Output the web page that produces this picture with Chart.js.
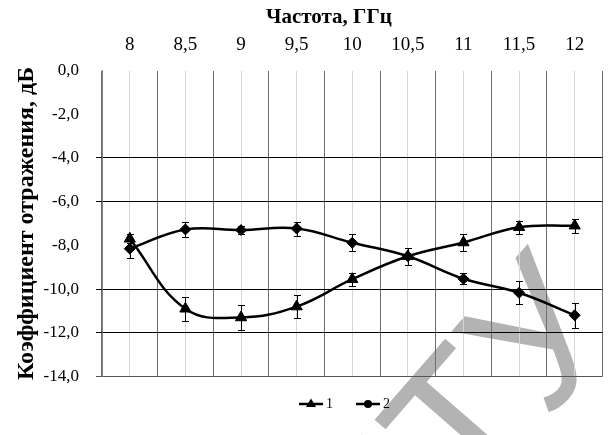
<!DOCTYPE html>
<html>
<head>
<meta charset="utf-8">
<script src="https://cdn.jsdelivr.net/npm/chart.js@4/dist/chart.umd.min.js"></script>
<style>
  html, body { margin: 0; padding: 0; background: #fff; }
  #wrap { width: 610px; height: 435px; }
</style>
</head>
<body>
<div id="wrap"><canvas id="c" width="610" height="435"></canvas></div>
<script>
// Frequency categories (GHz) along the top axis
const freqLabels = ['8', '8,5', '9', '9,5', '10', '10,5', '11', '11,5', '12'];

// Reflection coefficient, dB
const series1 = [-7.7, -10.9, -11.3, -10.8, -9.55, -8.5, -7.87, -7.17, -7.1];
const series1Err = [0.2, 0.55, 0.55, 0.53, 0.3, 0.4, 0.4, 0.3, 0.32];
const series2 = [-8.15, -7.27, -7.3, -7.23, -7.88, -8.5, -9.53, -10.17, -11.2];
const series2Err = [0.45, 0.34, 0.2, 0.32, 0.4, 0.4, 0.25, 0.53, 0.57];

const seriesNames = ['1', '2'];
const yTitle = 'Коэффициент отражения, дБ';
const xTitle = 'Частота, ГГц';

// Horizontal grid lines that are drawn (others stay hidden)
const strongGridValues = [-4, -6, -10, -12];

const SERIF = '"Liberation Serif", "Times New Roman", serif';

// Faint lettering behind the plot
const backdropText = {
  id: 'backdropText',
  beforeDraw(chart) {
    const ctx = chart.ctx;
    ctx.save();
    ctx.fillStyle = '#b3b3b3';
    ctx.font = '190px "Liberation Sans", Arial, sans-serif';
    if ('fontKerning' in ctx) ctx.fontKerning = 'none';
    ctx.translate(470.6, 508.8);
    ctx.rotate(-49 * Math.PI / 180);
    ctx.textBaseline = 'alphabetic';
    ctx.textAlign = 'left';
    const wT = ctx.measureText('Т').width;
    const wN = ctx.measureText('Н').width;
    ctx.fillText('Н', -wN, 0);
    ctx.fillText('Т', 0, 0);
    ctx.fillText('У', wT, 0);
    ctx.restore();
  }
};

// Vertical error bars with caps
const errorBars = {
  id: 'errorBars',
  afterDatasetsDraw(chart) {
    const ctx = chart.ctx;
    const yScale = chart.scales.y;
    const errs = [series1Err, series2Err];
    ctx.save();
    ctx.strokeStyle = '#000';
    ctx.lineWidth = 1;
    chart.data.datasets.forEach((ds, di) => {
      const meta = chart.getDatasetMeta(di);
      meta.data.forEach((pt, i) => {
        const v = ds.data[i];
        const e = errs[di][i];
        const x = Math.round(pt.x) + 0.5;
        const yTop = Math.round(yScale.getPixelForValue(v + e)) + 0.5;
        const yBot = Math.round(yScale.getPixelForValue(v - e)) + 0.5;
        ctx.beginPath();
        ctx.moveTo(x, yTop); ctx.lineTo(x, yBot);
        ctx.moveTo(x - 3.5, yTop); ctx.lineTo(x + 3.5, yTop);
        ctx.moveTo(x - 3.5, yBot); ctx.lineTo(x + 3.5, yBot);
        ctx.stroke();
      });
    });
    ctx.restore();
  }
};

// Top axis title and bottom legend (line + marker + name)
const annotations = {
  id: 'annotations',
  afterDraw(chart) {
    const ctx = chart.ctx;
    ctx.save();
    ctx.fillStyle = '#000';
    ctx.font = 'bold 21px ' + SERIF;
    ctx.textAlign = 'center';
    ctx.textBaseline = 'middle';
    ctx.fillText(xTitle, 329, 18);

    const items = [
      { x: 299, style: 'triangle', name: seriesNames[0] },
      { x: 356, style: 'circle', name: seriesNames[1] }
    ];
    const ly = 404;
    items.forEach(it => {
      ctx.strokeStyle = '#000';
      ctx.lineWidth = 2.5;
      ctx.beginPath();
      ctx.moveTo(it.x, ly); ctx.lineTo(it.x + 24, ly);
      ctx.stroke();
      const cx = it.x + 12;
      ctx.beginPath();
      if (it.style === 'triangle') {
        ctx.moveTo(cx, ly - 5.5);
        ctx.lineTo(cx + 5, ly + 3);
        ctx.lineTo(cx - 5, ly + 3);
        ctx.closePath();
      } else {
        ctx.arc(cx, ly, 4, 0, Math.PI * 2);
      }
      ctx.fill();
      ctx.font = '14px ' + SERIF;
      ctx.textAlign = 'left';
      ctx.fillText(it.name, it.x + 27, ly);
    });
    ctx.restore();
  }
};

new Chart(document.getElementById('c'), {
  type: 'line',
  data: {
    labels: freqLabels,
    datasets: [
      {
        label: seriesNames[0],
        data: series1,
        borderColor: '#000',
        borderWidth: 2.5,
        pointStyle: 'triangle',
        pointRadius: 6.5,
        pointBackgroundColor: '#000',
        pointBorderColor: '#000',
        pointBorderWidth: 1,
        tension: 0.4,
        fill: false,
        clip: false
      },
      {
        label: seriesNames[1],
        data: series2,
        borderColor: '#000',
        borderWidth: 2.5,
        pointStyle: 'rectRot',
        pointRadius: 5.5,
        pointBackgroundColor: '#000',
        pointBorderColor: '#000',
        pointBorderWidth: 1,
        tension: 0.4,
        fill: false,
        clip: false
      }
    ]
  },
  options: {
    responsive: false,
    animation: false,
    devicePixelRatio: 1,
    layout: { padding: { left: 0, right: 1, top: 0, bottom: 58.5 } },
    plugins: {
      legend: { display: false },
      tooltip: { enabled: false }
    },
    scales: {
      x: {
        type: 'category',
        position: 'top',
        offset: true,
        grid: { offset: true, color: '#6e6e6e', lineWidth: 1, drawTicks: false },
        border: { display: false },
        ticks: {
          color: '#000',
          padding: 14,
          maxRotation: 0,
          autoSkip: false,
          font: { family: SERIF, size: 19 }
        },
        afterFit(s) { s.height = 70.5; }
      },
      xMid: {
        type: 'category',
        position: 'top',
        labels: freqLabels,
        offset: true,
        grid: { offset: false, color: '#d6d6d6', lineWidth: 1, drawTicks: false },
        border: { display: false },
        ticks: { display: false },
        afterFit(s) { s.height = 0; }
      },
      y: {
        min: -14,
        max: 0,
        border: { display: true, color: '#808080', width: 1 },
        grid: {
          tickLength: 6,
          lineWidth: 1,
          color(ctx) {
            const v = ctx.tick ? ctx.tick.value : null;
            if (strongGridValues.includes(v)) return '#000';
            if (v === -14) return '#555';
            return 'rgba(0,0,0,0)';
          }
        },
        ticks: {
          stepSize: 2,
          padding: 17,
          color: '#000',
          font: { family: SERIF, size: 17 },
          callback: v => v.toFixed(1).replace('.', ',')
        },
        title: {
          display: true,
          text: yTitle,
          color: '#000',
          font: { family: SERIF, size: 24, weight: 'bold' },
          padding: { top: 12, bottom: 0 }
        },
        afterFit(s) { s.width = 102; }
      }
    }
  },
  plugins: [backdropText, errorBars, annotations]
});
</script>
</body>
</html>
